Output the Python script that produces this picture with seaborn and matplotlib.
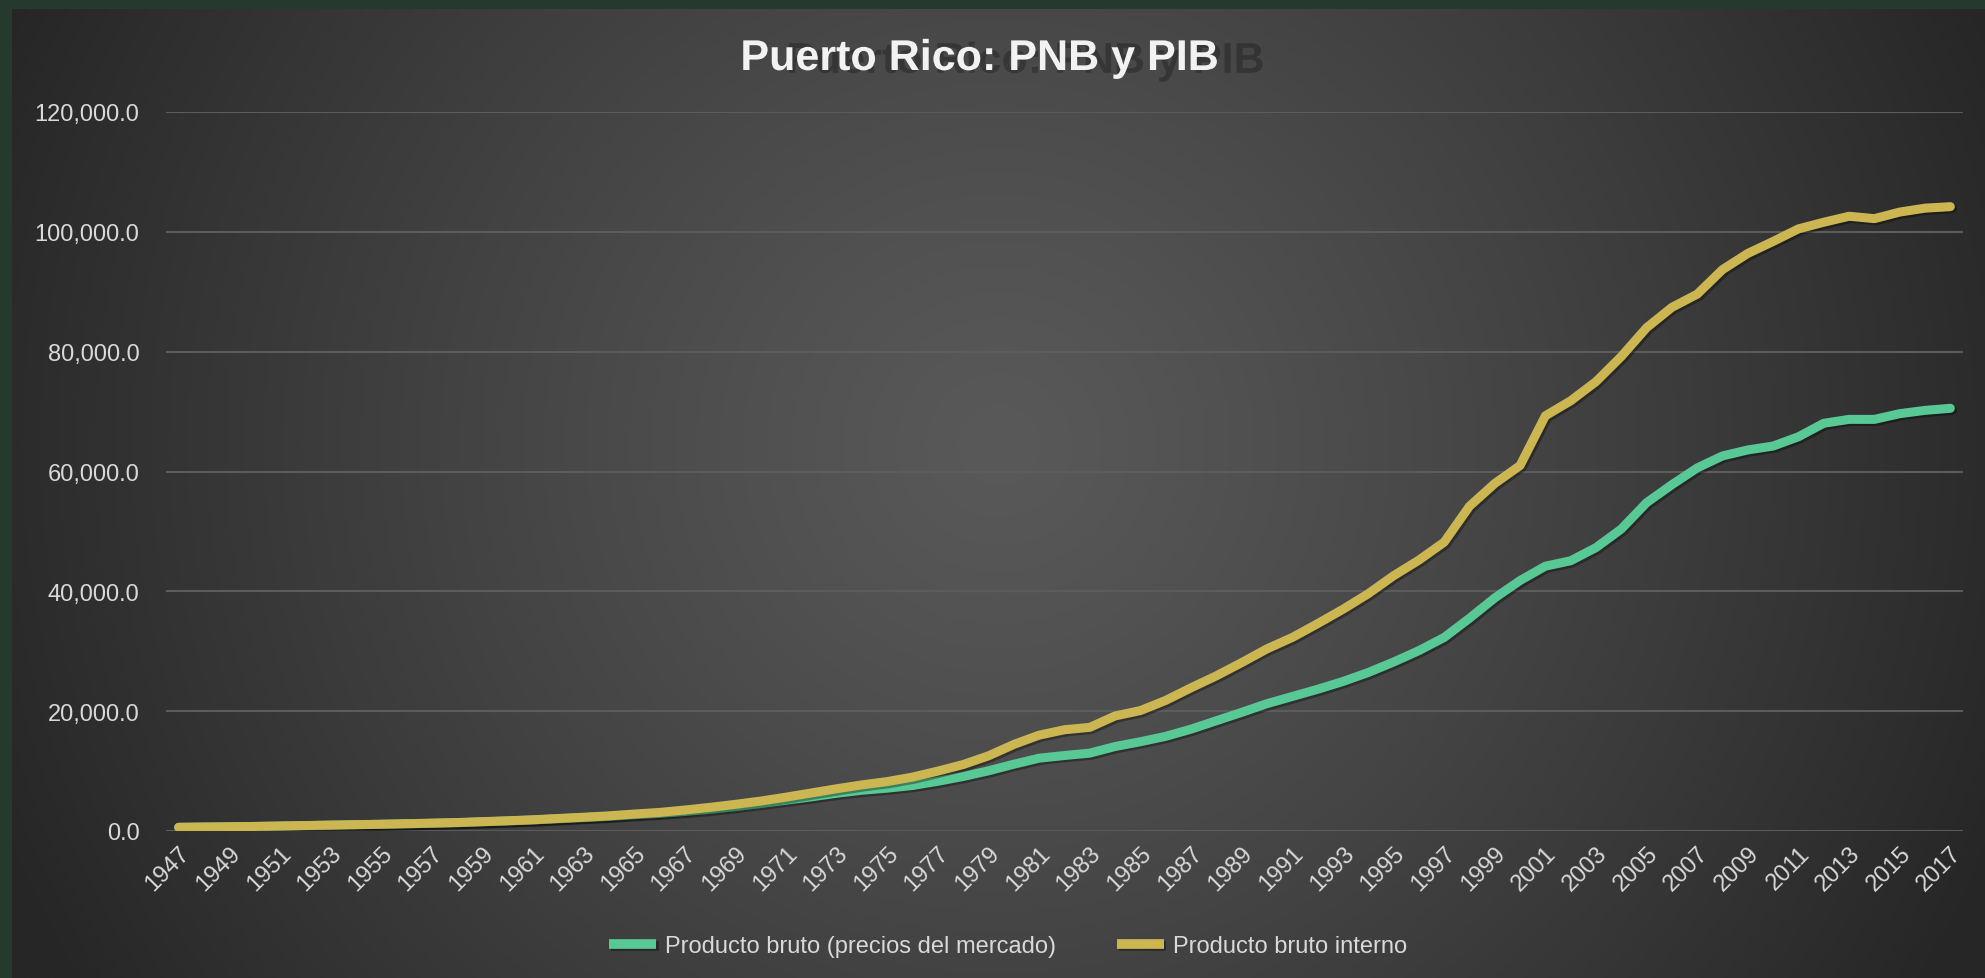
import numpy as np
import pandas as pd
import seaborn as sns
import matplotlib.pyplot as plt
import matplotlib.patheffects as pe
from matplotlib.ticker import FuncFormatter, MultipleLocator

# data (millones de dolares)
years = list(range(1947, 2018))
pnb = [600, 650, 690, 755, 820, 900, 970, 1040, 1110, 1190,
       1280, 1380, 1520, 1680, 1840, 2040, 2230, 2440, 2710, 2940,
       3250, 3620, 4080, 4600, 5150, 5700, 6300, 6800, 7150, 7600,
       8300, 9100, 10050, 11150, 12150, 12600, 13000, 14100, 14900, 15800,
       17000, 18400, 19800, 21250, 22450, 23650, 24950, 26450, 28200, 30100,
       32300, 35500, 38900, 41800, 44200, 45100, 47300, 50400, 54800, 57800,
       60600, 62600, 63600, 64250, 65800, 68050, 68700, 68700, 69650, 70200,
       70550]
pib = [620, 660, 700, 760, 830, 910, 980, 1060, 1130, 1220,
       1310, 1410, 1560, 1700, 1870, 2090, 2300, 2530, 2830, 3100,
       3500, 3950, 4450, 5000, 5650, 6350, 7050, 7700, 8250, 9000,
       10000, 11100, 12550, 14450, 16000, 16900, 17300, 19200, 20100, 21800,
       23900, 25900, 28100, 30400, 32300, 34600, 37000, 39600, 42600, 45200,
       48200, 54200, 58000, 61000, 69300, 71800, 75000, 79200, 84000, 87400,
       89600, 93700, 96400, 98400, 100500, 101600, 102600, 102200, 103300, 103950,
       104200]
names = ["Producto bruto (precios del mercado)", "Producto bruto interno"]
colors = ["#58c894", "#cbb651"]
title = "Puerto Rico: PNB y PIB"

sns.set_style("dark")
plt.rcParams["font.family"] = ["Liberation Sans", "DejaVu Sans"]

W, H = 1985, 979
fig = plt.figure(figsize=(W / 100, H / 100), dpi=100)
fig.patch.set_facecolor("#26392f")

# fondo con degradado radial
bg = fig.add_axes([12 / W, 0, 1 - 12 / W, 1 - 10 / H])
bg.axis("off")
gx, gy = np.meshgrid(np.linspace(0, 1, 600), np.linspace(0, 1, 300))
r = np.sqrt(((gx - 0.5) / 0.55) ** 2 + ((gy - 0.45) / 1.1) ** 2)
r = np.clip(r, 0, 1) ** 1.2
shade = (89 - 51 * r) / 255
bg.imshow(np.dstack([shade, shade, shade]), aspect="auto", interpolation="bilinear")

ax = fig.add_axes([166 / W, 1 - 832 / H, (1963 - 166) / W, (832 - 113) / H])
ax.patch.set_alpha(0)

df = pd.DataFrame({
    "Año": years * 2,
    "Valor": pnb + pib,
    "Serie": [names[0]] * len(years) + [names[1]] * len(years),
})
sns.lineplot(data=df, x="Año", y="Valor", hue="Serie", palette=colors,
             linewidth=6.5, ax=ax)
for line in ax.lines:
    line.set_solid_joinstyle("round")
    line.set_path_effects([pe.SimpleLineShadow(offset=(1.5, -1.5), alpha=0.35),
                           pe.Normal()])

ax.set_xlim(1946.5, 2017.5)
ax.set_ylim(0, 120000)
ax.set_xticks(years[::2])
ax.set_xticklabels([str(y) for y in years[::2]], rotation=45, ha="right",
                   rotation_mode="anchor")
ax.yaxis.set_major_locator(MultipleLocator(20000))
ax.yaxis.set_major_formatter(FuncFormatter(lambda v, p: f"{v:,.1f}"))
ax.set_axisbelow(True)
ax.grid(axis="y", color="#5c5c5c", linewidth=1.5)
ax.grid(axis="x", visible=False)
for s in ax.spines.values():
    s.set_visible(False)
ax.tick_params(axis="both", length=0, colors="#d9d9d9", labelsize=17)
ax.tick_params(axis="y", pad=19)
ax.tick_params(axis="x", pad=8)
ax.set_xlabel("")
ax.set_ylabel("")

handles, labels = ax.get_legend_handles_labels()
ax.get_legend().remove()
leg = fig.legend(handles, labels, loc="center", bbox_to_anchor=(1008 / W, 1 - 947 / H),
                 ncol=2, frameon=False, fontsize=17, labelcolor="#d9d9d9",
                 handlelength=2.0, handletextpad=0.35, columnspacing=2.6)
for h in leg.get_lines():
    h.set_linewidth(7)
    h.set_solid_capstyle("butt")

# titulo con sombra
fig.text(979 / W, 1 - 60 / H, title, ha="center", va="center", fontsize=31,
         fontweight="bold", color="#f2f2f2",
         path_effects=[pe.SimplePatchShadow(offset=(33, -2), shadow_rgbFace="black",
                                            alpha=0.25),
                       pe.Normal()])

fig.savefig("out.png", dpi=100, facecolor=fig.get_facecolor())
